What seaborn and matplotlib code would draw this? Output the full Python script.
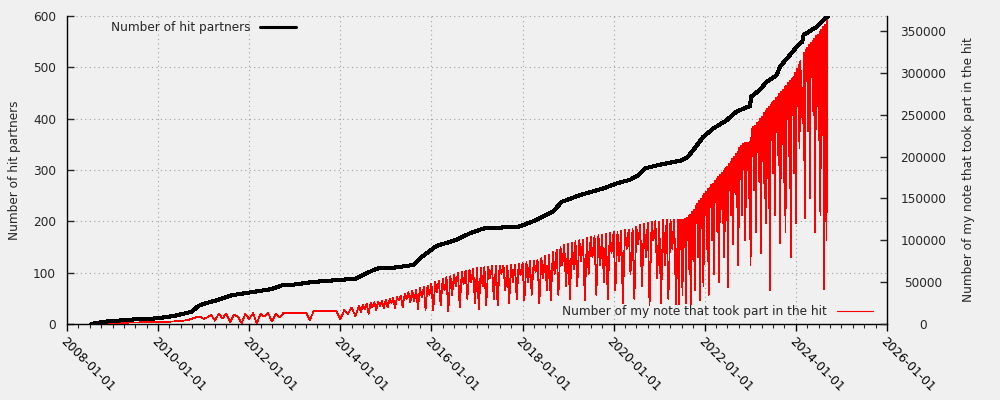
import numpy as np
import pandas as pd
import matplotlib
matplotlib.use("Agg")
import matplotlib.pyplot as plt
import matplotlib.dates as mdates
import matplotlib.ticker as mticker
from matplotlib.lines import Line2D
import seaborn as sns

# ---------------- data ----------------
# Number of hit partners (left axis): decimal year, cumulative count
partner_years = [2008.53, 2008.83, 2009.49, 2009.97, 2010.37, 2010.74, 2010.88, 2011.03,
                 2011.32, 2011.61, 2011.98, 2012.49, 2012.71, 2013.0, 2013.41, 2014.0,
                 2014.32, 2014.58, 2014.8, 2015.2, 2015.6, 2015.75, 2015.97, 2016.11,
                 2016.55, 2016.85, 2017.14, 2017.94, 2018.31, 2018.67, 2018.86, 2019.26,
                 2019.77, 2020.07, 2020.36, 2020.55, 2020.68, 2021.0, 2021.5, 2021.62,
                 2021.75, 2021.97, 2022.19, 2022.48, 2022.7, 2022.92, 2022.99, 2023.02,
                 2023.21, 2023.36, 2023.58, 2023.65, 2023.87, 2024.02, 2024.14, 2024.17,
                 2024.46, 2024.6, 2024.71]
partner_counts = [0, 4.5, 9, 11, 16, 24, 35, 40,
                  47, 56, 61, 68, 75, 77, 82, 86,
                  88, 99, 108, 110, 115, 128, 143, 152,
                  164, 177, 186, 190, 203, 219, 238, 251,
                  264, 274, 281, 290, 303, 310, 319, 325,
                  339, 365, 381, 397, 414, 422, 424, 443,
                  456, 472, 485, 501, 524, 540, 550, 563,
                  579, 592, 600]

# Number of my notes that took part in the hit (right axis), in thousands
# monthly samples from 2008-08
notes_monthly_start = "2008-08-01"
notes_monthly_k = [0.3, 0.5, 0.8, 1.0, 1.0,
                   1.2, 1.2, 1.4, 1.5, 1.6, 1.7, 1.8, 1.9, 2.0, 2.0, 2.1, 2.2,
                   2.3, 2.4, 2.6, 2.8, 3.0, 3.3, 3.8, 4.2, 5.0, 6.5, 8.0, 9.0,
                   6, 8, 11, 4, 12, 7, 12, 2, 11, 9, 1, 12,
                   6, 13, 1, 12, 9, 13, 3, 12, 8, 13, 13, 13,
                   13.3, 13.3, 13.3, 13.3, 4.7, 15.4, 15.4, 15.4, 15.4, 15.4, 15.4, 15.4,
                   5.6, 16.5, 11.8, 19.7, 9.5]
# semi-monthly samples from 2014-06
notes_semimonthly_start = "2014-06-01"
notes_semimonthly_k = [22, 14, 23, 18, 24, 12, 25, 20, 26, 17, 27, 21, 28, 19,
                       29, 20, 30, 25, 31, 19, 32, 28, 34, 20, 36, 30, 38, 26, 40, 27, 41, 18, 43, 32, 44, 17, 46, 35,
                       48, 16, 50, 38, 52, 22, 54, 40, 56, 15, 57, 35, 59, 45, 61, 20, 62, 48, 64, 30, 65, 50, 66, 25,
                       67, 18, 67, 45, 68, 22, 68, 55, 69, 30, 69, 22, 70, 60, 70, 40, 70, 25, 71, 50, 71, 30, 72, 58,
                       73, 28, 74, 50, 75, 35, 76, 62, 77, 25, 79, 55, 81, 40, 83, 28, 86, 60, 89, 35, 92, 70, 95, 45,
                       96, 30, 97, 65, 99, 45, 100, 75, 101, 28, 103, 60, 104, 80, 105, 35, 106, 70, 107, 50, 108, 30, 109, 85,
                       110, 40, 110, 75, 111, 25, 112, 90, 113, 60, 114, 30, 116, 95, 118, 45, 120, 80, 121, 23, 122, 100, 123, 55,
                       122, 25, 124, 70, 125, 30, 125, 90, 125, 24]
# weekly samples from 2021-06
notes_weekly_start = "2021-06-01"
notes_weekly_k = [125, 24, 125, 90, 125, 35, 125, 110, 126, 25, 127, 100, 129, 60, 131, 24,
                  134, 105, 137, 40, 141, 120, 144, 80, 147, 28, 150, 115, 153, 45, 156, 130,
                  158, 90, 161, 35, 163, 140, 166, 100, 168, 60, 171, 145, 173, 110, 176, 50,
                  178, 150, 181, 120, 183, 80, 186, 155, 188, 44, 191, 160, 194, 130, 197, 95,
                  200, 170, 203, 140, 206, 70, 210, 175, 213, 130, 215, 185, 216, 100, 216, 190,
                  217, 150, 218, 70, 233, 200, 235, 160, 237, 110, 240, 205, 242, 170, 245, 85,
                  248, 210, 252, 150, 255, 120, 257, 215, 260, 40, 262, 220, 265, 180, 267, 130,
                  270, 230, 272, 190, 275, 96, 277, 235, 280, 170, 283, 110, 285, 245, 288, 200,
                  290, 80, 293, 250, 295, 180, 300, 120, 305, 260, 310, 210, 314, 280, 250, 240,
                  324, 126, 327, 290, 330, 230, 333, 150, 336, 295, 338, 250, 341, 110, 344, 300,
                  346, 220, 349, 130, 352, 310, 355, 42, 358, 250, 100, 366]

x_tick_years = [2008, 2010, 2012, 2014, 2016, 2018, 2020, 2022, 2024, 2026]
left_ticks = [0, 100, 200, 300, 400, 500, 600]
right_ticks = [0, 50000, 100000, 150000, 200000, 250000, 300000, 350000]

label_black = "Number of hit partners"
label_red = "Number of my note that took part in the hit"


def decimal_year_to_ts(d):
    y = int(d)
    start = pd.Timestamp(y, 1, 1)
    end = pd.Timestamp(y + 1, 1, 1)
    return start + (end - start) * (d - y)


df_black = pd.DataFrame({"date": [decimal_year_to_ts(v) for v in partner_years],
                         "partners": partner_counts})

seg1 = pd.date_range(notes_monthly_start, periods=len(notes_monthly_k), freq="MS")
seg2 = pd.date_range(notes_semimonthly_start, periods=len(notes_semimonthly_k), freq="SMS")
seg3 = pd.date_range(notes_weekly_start, periods=len(notes_weekly_k), freq="7D")
df_red = pd.DataFrame({
    "date": list(seg1) + list(seg2) + list(seg3),
    "notes": np.array(notes_monthly_k + notes_semimonthly_k + notes_weekly_k) * 1000,
})

# ---------------- style ----------------
sns.set_style("ticks")
BG = "#f0f0f0"
FS = 8.7
RED = "#ff0000"
plt.rcParams["font.family"] = ["DejaVu Sans"]
plt.rcParams["font.size"] = FS

fig = plt.figure(figsize=(10, 4), dpi=100, facecolor=BG)
ax = fig.add_axes([0.067, 0.19, 0.82, 0.77])
ax.set_facecolor(BG)
ax_red = ax.twinx()
ax_black = ax.twinx()
ax.set_zorder(0)
ax_red.set_zorder(1)
ax_black.set_zorder(2)
for a in (ax_red, ax_black):
    a.patch.set_visible(False)

sns.lineplot(data=df_red, x="date", y="notes", ax=ax_red, color=RED,
             linewidth=0.55, estimator=None, sort=False, legend=False,
             antialiased=False)
sns.lineplot(data=df_black, x="date", y="partners", ax=ax_black, color="black",
             linewidth=2.2, estimator=None, sort=False, legend=False,
             antialiased=False)

# x axis
ax.set_xlim(pd.Timestamp(x_tick_years[0], 1, 1), pd.Timestamp(x_tick_years[-1], 1, 1))
ax.xaxis.set_major_locator(mticker.FixedLocator(
    [mdates.date2num(pd.Timestamp(y, 1, 1)) for y in x_tick_years]))
ax.xaxis.set_major_formatter(mdates.DateFormatter("%Y-%m-%d"))
ax.xaxis.set_minor_locator(mdates.MonthLocator(bymonth=(1, 4, 7, 10)))
ax.tick_params(axis="x", which="major", direction="out", length=5, width=1,
               labelsize=FS, pad=3, colors="black")
ax.tick_params(axis="x", which="minor", direction="out", length=3, width=0.8)
plt.setp(ax.get_xticklabels(), rotation=-45, ha="left", va="top",
         rotation_mode="anchor")
ax.set_xlabel("")

# left axis
ax.set_ylim(0, 600)
ax.set_yticks(left_ticks)
ax.tick_params(axis="y", direction="in", length=5, width=1, labelsize=FS, pad=8,
               left=True, right=False)
ax.set_ylabel(label_black, fontsize=FS)
ax.yaxis.set_label_coords((15 - 67) / 820, 0.5)
ax.yaxis.label.set_va("center")
ax.grid(True, which="major", axis="both", color="#a0a0a0",
        linestyle=(0, (1, 3)), linewidth=0.8)

# right axis
ax_red.set_ylim(0, 368000)
ax_red.set_yticks(right_ticks)
ax_red.yaxis.set_major_formatter(mticker.FormatStrFormatter("%d"))
ax_red.tick_params(axis="y", direction="in", length=5, width=1, labelsize=FS, pad=26)
for t in ax_red.get_yticklabels():
    t.set_ha("center")
ax_red.set_ylabel(label_red, fontsize=FS)
ax_red.yaxis.set_label_coords((968 - 67) / 820, 0.5)
ax_red.yaxis.label.set_va("center")
ax_red.set_xlabel("")

ax_black.set_ylim(0, 600)
ax_black.yaxis.set_visible(False)
ax_black.set_xlabel("")

for a in (ax, ax_red, ax_black):
    a.spines["top"].set_visible(False)
for s in ax_black.spines.values():
    s.set_visible(False)
for s in ("left", "bottom"):
    ax.spines[s].set_linewidth(1.0)
    ax.spines[s].set_color("black")
ax_red.spines["right"].set_linewidth(1.0)
ax_red.spines["right"].set_color("black")
ax.spines["right"].set_visible(False)
ax_red.spines["left"].set_visible(False)
ax_red.spines["bottom"].set_visible(False)

# legends (gnuplot style: text then sample)
h_black = Line2D([], [], color="black", linewidth=2.2)
h_red = Line2D([], [], color=RED, linewidth=0.8)
leg1 = ax_black.legend([h_black], [label_black], loc="center right",
                       bbox_to_anchor=(0.296, 1 - 28 / 400), bbox_transform=fig.transFigure,
                       frameon=False, markerfirst=False, handlelength=3.0,
                       handletextpad=0.8, borderpad=0, borderaxespad=0, fontsize=FS)
ax_black.add_artist(leg1)
leg2 = ax_black.legend([h_red], [label_red], loc="center right",
                       bbox_to_anchor=(0.873, 1 - 312 / 400), bbox_transform=fig.transFigure,
                       frameon=False, markerfirst=False, handlelength=3.0,
                       handletextpad=0.8, borderpad=0, borderaxespad=0, fontsize=FS)

fig.savefig("out.png", dpi=100, facecolor=BG)
